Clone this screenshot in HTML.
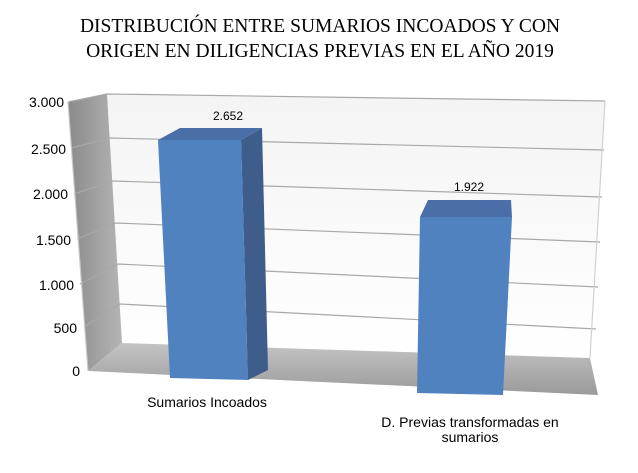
<!DOCTYPE html>
<html><head><meta charset="utf-8"><style>
html,body{margin:0;padding:0;background:#fff;}
svg{display:block;}
</style></head><body>
<svg width="638" height="473" viewBox="0 0 638 473" xmlns="http://www.w3.org/2000/svg">
<defs>
<linearGradient id="bw" x1="0" y1="0" x2="0" y2="1">
<stop offset="0" stop-color="#f4f4f4"/><stop offset="1" stop-color="#ffffff"/></linearGradient>
<linearGradient id="sw" x1="0" y1="0" x2="1" y2="0">
<stop offset="0" stop-color="#8a8a8a"/><stop offset="1" stop-color="#b5b5b5"/></linearGradient>
<linearGradient id="fl" x1="0" y1="0" x2="0" y2="1">
<stop offset="0" stop-color="#c4c4c4"/><stop offset="1" stop-color="#9a9a9a"/></linearGradient>
</defs>
<text x="320" y="32" text-anchor="middle" font-family="Liberation Serif, serif" font-size="19.5">DISTRIBUCIÓN ENTRE SUMARIOS INCOADOS Y CON</text>
<text x="320" y="57" text-anchor="middle" font-family="Liberation Serif, serif" font-size="19.5">ORIGEN EN DILIGENCIAS PREVIAS EN EL AÑO 2019</text>
<!-- back wall -->
<polygon points="107,94 605,101 590,358 122,343" fill="url(#bw)"/>
<!-- side wall -->
<polygon points="68,102 107,94 122,343 88,371" fill="url(#sw)"/>
<!-- floor -->
<polygon points="88,371 122,343 590,358 598,395" fill="url(#fl)"/>
<g stroke="#a8a8a8" stroke-width="1.2" fill="none">
<polyline points="68,102 107,94 605,101"/>
<polyline points="71,148 110,138 604,150"/>
<polyline points="74,194 113,181 602,197"/>
<polyline points="77,239 116,223 600,242"/>
<polyline points="80,284 118,264 598,287"/>
<polyline points="84,327 120,304 596,329"/>
<line x1="605" y1="101" x2="590" y2="358" stroke="#d0d0d0"/>
</g>
<g stroke="#c8c8c8" stroke-width="1.2"><line x1="68" y1="102" x2="88" y2="371"/></g>
<g font-family="Liberation Sans, sans-serif" font-size="14" text-anchor="end" fill="#000">
<text x="64" y="107">3.000</text>
<text x="66" y="154">2.500</text>
<text x="68" y="199">2.000</text>
<text x="71" y="245">1.500</text>
<text x="74" y="290">1.000</text>
<text x="77" y="333">500</text>
<text x="80" y="376">0</text>
</g>
<!-- bar 1 -->
<polygon points="158,140 241,140 262,128 180,128" fill="#4a6fa8"/>
<polygon points="241,140 262,128 268,370 248,380" fill="#3e5d8a"/>
<polygon points="158,140 241,140 248,380 170,378" fill="#5182c0"/>
<!-- bar 2 -->
<polygon points="420,217 512,217 511,200 428,200" fill="#4a6fa8"/>
<polygon points="420,217 512,217 503,395 417,393" fill="#5182c0"/>
<g font-family="Liberation Sans, sans-serif" font-size="12" text-anchor="middle" fill="#000">
<text x="228" y="120">2.652</text>
<text x="469" y="191">1.922</text>
</g>
<g font-family="Liberation Sans, sans-serif" font-size="14" text-anchor="middle" fill="#000">
<text x="207" y="407">Sumarios Incoados</text>
<text x="470" y="427">D. Previas transformadas en</text>
<text x="470" y="442">sumarios</text>
</g>
</svg>
</body></html>
